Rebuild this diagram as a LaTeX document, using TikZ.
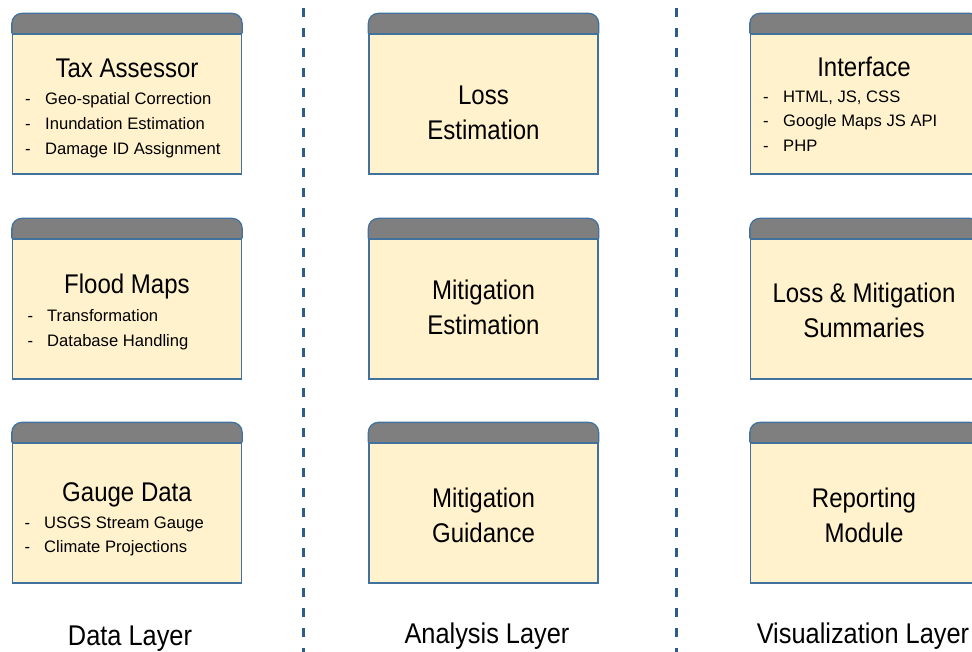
\documentclass[tikz,border=0pt]{standalone}
\usepackage{fontspec}
\setmainfont{Liberation Sans}
\newfontfamily\narrowsans{Liberation Sans}[FakeStretch=0.89]
\definecolor{boxfill}{HTML}{FFF2CC}
\definecolor{boxline}{HTML}{41719C}
\definecolor{headfill}{HTML}{7F7F7F}
\definecolor{sepline}{HTML}{2E5C8A}
\tikzset{
  modbody/.style={draw=boxline, fill=boxfill, line width=1.3pt, minimum width=229pt, minimum height=140pt, inner sep=0pt},
  modhead/.style={draw=boxline, fill=headfill, line width=1.3pt, rounded corners=10pt},
  modtitle/.style={font=\narrowsans\fontsize{27}{35}\selectfont, align=center, inner sep=0pt},
  moditem/.style={font=\fontsize{16.6}{20}\selectfont, inner sep=0pt, anchor=base west},
  layername/.style={font=\narrowsans\fontsize{28.5}{30}\selectfont, inner sep=0pt, anchor=base},
  divider/.style={sepline, line width=3pt, dash pattern=on 9pt off 11pt}
}
\begin{document}
\begin{tikzpicture}[x=1pt, y=-1pt]
    \useasboundingbox (0,0) rectangle (972,652);
    \clip (0,0) rectangle (972,652);
    % module bodies
    \node[modbody] (tax)      at (127,104)   {};
    \node[modbody] (flood)    at (127,309)   {};
    \node[modbody] (gauge)    at (127,513)   {};
    \node[modbody] (loss)     at (483.5,104) {};
    \node[modbody] (mitest)   at (483.5,309) {};
    \node[modbody] (mitguide) at (483.5,513) {};
    \node[modbody] (iface)    at (865,104)   {};
    \node[modbody] (summ)     at (865,309)   {};
    \node[modbody] (report)   at (865,513)   {};
    % grey tabs
    \foreach \b in {tax,flood,gauge,loss,mitest,mitguide,iface,summ,report} {
        \filldraw[modhead] (\b.north west) -- ([yshift=20pt]\b.north west) -- ([yshift=20pt]\b.north east) -- (\b.north east);
        \draw[boxline, line width=1.3pt] (\b.north west) -- (\b.north east);
    }
    % layer dividers
    \coordinate (div1top) at (303,8);
    \coordinate (div1bot) at (303,652);
    \coordinate (div2top) at (676,8);
    \coordinate (div2bot) at (676,652);
    \draw[divider] (div1top) -- (div1bot);
    \draw[divider] (div2top) -- (div2bot);
    % data layer
    \node[modtitle, anchor=base] (taxT) at (127,77.5) {Tax Assessor};
    \foreach \t [count=\i] in {Geo-spatial Correction, Inundation Estimation, Damage ID Assignment}
        \node[moditem] (tax\i) at (45,{80+24.75*\i}) {\llap{-\hspace{14.5pt}}\t};
    \node[modtitle, anchor=base] (floodT) at (127,294) {Flood Maps};
    \foreach \t [count=\i] in {Transformation, Database Handling}
        \node[moditem] (flood\i) at (47,{297.5+24.5*\i}) {\llap{-\hspace{14pt}}\t};
    \node[modtitle, anchor=base] (gaugeT) at (127,501) {Gauge Data};
    \foreach \t [count=\i] in {USGS Stream Gauge, Climate Projections}
        \node[moditem] (gauge\i) at (44,{503.5+24.5*\i}) {\llap{-\hspace{14pt}}\t};
    % analysis layer
    \node[modtitle] (lossT)     at (483.5,113)   {Loss\\Estimation};
    \node[modtitle] (mitestT)   at (483.5,307.5) {Mitigation\\Estimation};
    \node[modtitle] (mitguideT) at (483.5,515)   {Mitigation\\Guidance};
    % visualization layer
    \node[modtitle, anchor=base] (ifaceT) at (864,77) {Interface};
    \foreach \t [count=\i] in {{HTML, JS, CSS}, Google Maps JS API, PHP}
        \node[moditem] (iface\i) at (783,{77.5+24.75*\i}) {\llap{-\hspace{14.5pt}}\t};
    \node[modtitle] (summT)   at (864,310) {Loss \& Mitigation\\Summaries};
    \node[modtitle] (reportT) at (864,515) {Reporting\\Module};
    % layer names
    \node[layername] (datal) at (130,645) {Data Layer};
    \node[layername] (anal)  at (487,643) {Analysis Layer};
    \node[layername] (visl)  at (863,643) {Visualization Layer};
\end{tikzpicture}
\end{document}
